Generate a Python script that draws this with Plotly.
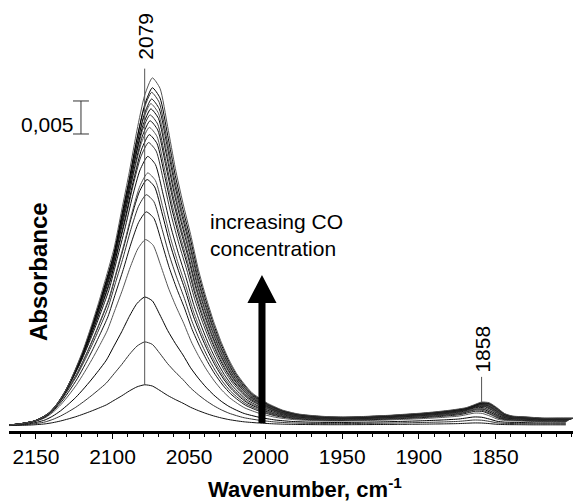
import plotly.graph_objects as go

# Wavenumber grid (cm-1) on which the band shape of the strongest spectrum was read
wavenumber = [2168, 2160, 2150, 2145, 2140, 2135, 2130, 2125, 2120, 2115, 2110, 2105,
              2100, 2095, 2090, 2085, 2080, 2075, 2070, 2065, 2060, 2055, 2050, 2045,
              2040, 2035, 2030, 2025, 2020, 2015, 2010, 2000, 1990, 1980, 1970, 1960,
              1950, 1940, 1930, 1920, 1910, 1900, 1890, 1880, 1870, 1865, 1860, 1855,
              1850, 1845, 1840, 1830, 1820, 1810, 1800]
# Normalised band shape (peak = 1)
band_shape = [0.002, 0.006, 0.016, 0.028, 0.045, 0.075, 0.115, 0.165, 0.22, 0.285, 0.355, 0.43,
              0.51, 0.62, 0.73, 0.85, 0.95, 1.0, 0.97, 0.86, 0.74, 0.64, 0.55, 0.45,
              0.37, 0.30, 0.24, 0.19, 0.15, 0.12, 0.095, 0.065, 0.045, 0.034, 0.029, 0.026,
              0.025, 0.026, 0.028, 0.030, 0.033, 0.036, 0.040, 0.045, 0.052, 0.060, 0.068, 0.066,
              0.052, 0.035, 0.028, 0.025, 0.022, 0.022, 0.022]
shape_peak = 2075
# Peak absorbance of each spectrum (increasing CO concentration)
peak_absorbance = [0.0062, 0.0127, 0.0195, 0.0282, 0.0324, 0.0350, 0.0373, 0.0383, 0.0408,
                   0.0429, 0.0441, 0.0452, 0.0462, 0.0471, 0.0480, 0.0488, 0.0495, 0.0505,
                   0.0512, 0.0527]
# Peak position of each spectrum (cm-1)
peak_position = [2079, 2079, 2079, 2078.5, 2078, 2078, 2077.5, 2077, 2077, 2076.5, 2076,
                 2076, 2075.5, 2075.5, 2075, 2075, 2074.5, 2074.5, 2074, 2074]
line_colors = ["#111111", "#333333", "#000000", "#555555"]

x_ticks = [2150, 2100, 2050, 2000, 1950, 1900, 1850]
x_tick_text = ["2150", "2100", "2050", "2000", "1950", "1900", "1850"]

FONT = "Liberation Sans, Arial, sans-serif"

fig = go.Figure()
for i, (amp, pos) in enumerate(zip(peak_absorbance, peak_position)):
    fig.add_trace(go.Scatter(
        x=[w + (pos - shape_peak) for w in wavenumber],
        y=[amp * s for s in band_shape],
        mode="lines",
        line=dict(color=line_colors[i % len(line_colors)], width=1, shape="spline", smoothing=0.6),
        showlegend=False, hoverinfo="skip",
    ))

shapes = [
    # 2079 marker line
    dict(type="line", xref="x", yref="y", x0=2079, x1=2079, y0=0.00617, y1=0.0541,
         line=dict(color="#555555", width=1)),
    # 1858 marker line
    dict(type="line", xref="x", yref="y", x0=1859, x1=1859, y0=0.0036, y1=0.0074,
         line=dict(color="#555555", width=1)),
    # scale bar 0,005
    dict(type="line", xref="x", yref="y", x0=2120.6, x1=2120.6, y0=0.0442, y1=0.0492,
         line=dict(color="#333333", width=1)),
    dict(type="line", xref="x", yref="y", x0=2125.8, x1=2115.4, y0=0.0442, y1=0.0442,
         line=dict(color="#333333", width=1)),
    dict(type="line", xref="x", yref="y", x0=2125.8, x1=2115.4, y0=0.0492, y1=0.0492,
         line=dict(color="#333333", width=1)),
]
# big arrow
ax = 2002.4
shapes.append(dict(
    type="path", xref="x", yref="y",
    path=(f"M {ax-2.3},0.0004 L {ax+2.3},0.0004 L {ax+2.3},0.01859 L {ax+9.5},0.01859 "
          f"L {ax},0.02283 L {ax-9.5},0.01859 L {ax-2.3},0.01859 Z"),
    fillcolor="black", line=dict(color="black", width=0),
))

annotations = [
    dict(text="2079", x=2079, xref="x", y=(431 - 36) / 431, yref="paper", textangle=-90,
         showarrow=False, font=dict(size=21, color="black", family=FONT),
         xanchor="center", yanchor="middle"),
    dict(text="1858", x=1859, xref="x", y=(431 - 349) / 431, yref="paper", textangle=-90,
         showarrow=False, font=dict(size=21, color="black", family=FONT),
         xanchor="center", yanchor="middle"),
    dict(text="0,005", x=2123.9, xref="x", y=0.0457, yref="y", showarrow=False,
         font=dict(size=21, color="black", family=FONT), xanchor="right", yanchor="middle"),
    dict(text="increasing CO<br>concentration", x=2037.7, xref="x", y=0.0289, yref="y",
         showarrow=False, align="left", font=dict(size=21, color="black", family=FONT),
         xanchor="left", yanchor="middle"),
    dict(text="<b>Wavenumber, cm<sup>-1</sup></b>", x=(305 - 9) / 564, xref="paper",
         y=(431 - 488) / 431, yref="paper", showarrow=False,
         font=dict(size=22, color="black", family=FONT), xanchor="center", yanchor="middle"),
    dict(text="<b>Absorbance</b>", x=(38 - 9) / 564, xref="paper", y=(431 - 272) / 431,
         yref="paper", textangle=-90, showarrow=False,
         font=dict(size=24, color="black", family=FONT), xanchor="center", yanchor="middle"),
]

fig.update_layout(
    width=573, height=504,
    margin=dict(l=9, r=0, t=0, b=73),
    paper_bgcolor="white", plot_bgcolor="white",
    font=dict(family=FONT, size=21, color="black"),
    shapes=shapes, annotations=annotations,
    xaxis=dict(
        range=[2167.6, 1799.3], showgrid=False, zeroline=False,
        showline=True, linecolor="black", linewidth=3,
        tickmode="array", tickvals=x_ticks, ticktext=x_tick_text,
        ticks="outside", ticklen=5, tickwidth=1, tickcolor="black",
        tickfont=dict(size=21, family=FONT, color="black"),
        minor=dict(dtick=10, tick0=1800, ticks="outside", ticklen=3, tickwidth=1, tickcolor="black"),
    ),
    yaxis=dict(range=[-0.0008, 0.0645], visible=False, showgrid=False, zeroline=False),
)

fig.write_html("out.html")
